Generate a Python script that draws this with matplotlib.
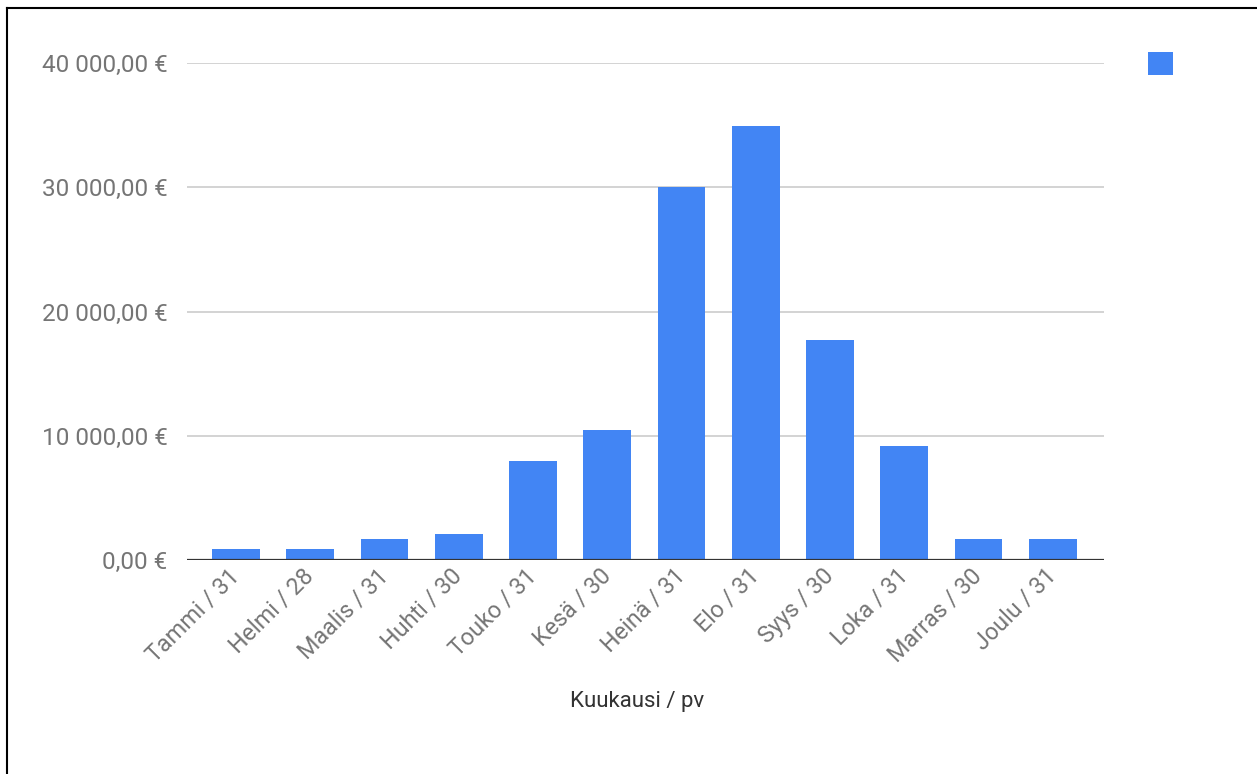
import matplotlib
matplotlib.use("Agg")
import matplotlib.pyplot as plt
from matplotlib.lines import Line2D
from matplotlib.patches import Rectangle
from matplotlib.transforms import ScaledTranslation

plt.rcParams['font.family'] = ['Roboto', 'DejaVu Sans']

months = ["Tammi / 31", "Helmi / 28", "Maalis / 31", "Huhti / 30", "Touko / 31",
          "Kesä / 30", "Heinä / 31", "Elo / 31", "Syys / 30", "Loka / 31",
          "Marras / 30", "Joulu / 31"]
values = [920, 920, 1650, 2100, 8000, 10500, 30050, 34950, 17700, 9150, 1650, 1650]
y_ticks = [0, 10000, 20000, 30000, 40000]
y_tick_labels = ["0,00 €", "10 000,00 €", "20 000,00 €", "30 000,00 €", "40 000,00 €"]
x_title = "Kuukausi / pv"

W, H = 1257, 774
fig = plt.figure(figsize=(W / 100, H / 100), dpi=100)
fig.patch.set_facecolor("white")

left, right, top, bottom = 187, 1104, 63, 560
ax = fig.add_axes([left / W, 1 - bottom / H, (right - left) / W, (bottom - top) / H])

bar_color = "#4285F4"
x = list(range(len(months)))
ax.bar(x, values, width=0.645, color=bar_color, zorder=2)

ax.set_xlim(-0.66, len(months) - 1 + 0.69)
ax.set_ylim(0, 40000)

ax.set_yticks(y_ticks)
ax.set_yticklabels(y_tick_labels)
ax.yaxis.grid(True, color="#cccccc", linewidth=1.2, zorder=0)
ax.axhline(0, color="#333333", linewidth=1.6, zorder=3)

ax.set_xticks(x)
ax.set_xticklabels(months, rotation=45, ha="right", va="center", rotation_mode="anchor")
shift = ScaledTranslation(19 / 100, 0, fig.dpi_scale_trans)
for lbl in ax.get_xticklabels():
    lbl.set_transform(lbl.get_transform() + shift)

for s in ax.spines.values():
    s.set_visible(False)
ax.tick_params(axis="both", length=0, colors="#757575")
ax.tick_params(axis="y", pad=14, labelsize=17.5)
ax.tick_params(axis="x", pad=9, labelsize=16.8)

fig.text(637 / W, 1 - 701 / H, x_title, ha="center", va="center",
         fontsize=16, color="#333333")

# legend swatch (series has no name)
fig.patches.append(Rectangle((1148 / W, 1 - 75 / H), 25 / W, 23 / H,
                             transform=fig.transFigure, facecolor=bar_color,
                             edgecolor="none"))

# outer frame: only left and top edges fall inside the canvas
fig.lines.append(Line2D([6.5 / W, 6.5 / W], [0, 1 - 7.5 / H], transform=fig.transFigure,
                        color="black", linewidth=1.5))
fig.lines.append(Line2D([6.5 / W, 1], [1 - 7.5 / H, 1 - 7.5 / H], transform=fig.transFigure,
                        color="black", linewidth=1.5))

fig.savefig("out.png", dpi=100)
